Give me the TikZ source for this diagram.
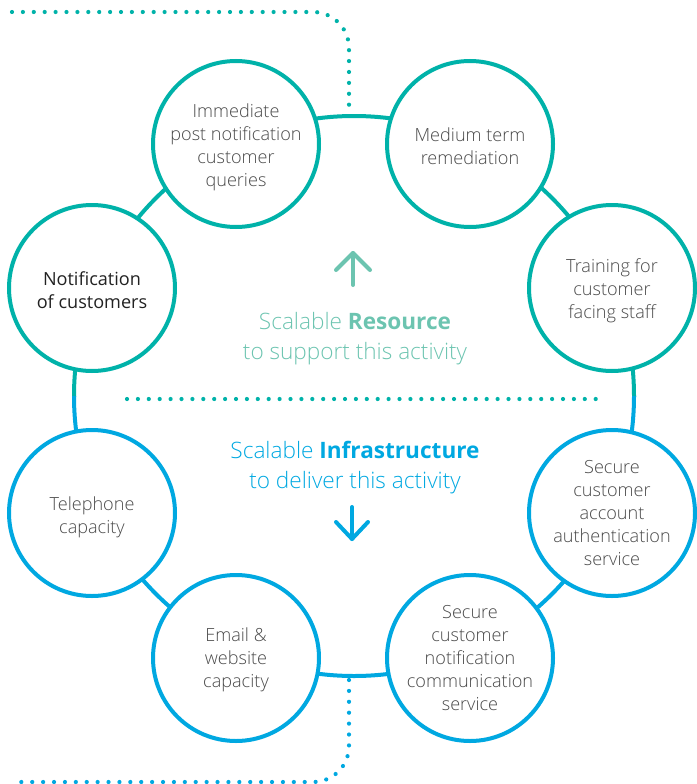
\documentclass[tikz,border=0pt]{standalone}
\usepackage{fontspec}
\setmainfont{Open Sans}
\newfontfamily\lightface{Open Sans Light}
\definecolor{ringteal}{HTML}{00B2A9}
\definecolor{ringblue}{HTML}{00A8E1}
\definecolor{softteal}{HTML}{6CC4B0}
\definecolor{labelgray}{HTML}{4A4A4A}
\definecolor{darkgray}{HTML}{222222}
\tikzset{
  x=1pt, y=-1pt,
  stage/.style={circle, minimum size=166pt, line width=4pt, fill=white,
    inner sep=0pt},
  resstage/.style={stage, draw=ringteal},
  infstage/.style={stage, draw=ringblue},
  stagetext/.style={align=center, text=labelgray, inner sep=0pt,
    font=\lightface\fontsize{18.1}{23}\selectfont},
  ringline/.style={line width=4pt},
  dotline/.style={line width=4.2pt, line cap=round, dash pattern=on 0pt off 10.9pt},
  bigarrow/.style={line width=4pt, line cap=round, line join=round},
  midtext/.style={align=center, font=\lightface\fontsize{22.6}{30}\selectfont}
}
\begin{document}
\begin{tikzpicture}
\useasboundingbox (0,0) rectangle (696,784);

% ring behind the stages: resource half above, infrastructure half below
\coordinate (hub) at (354,396);
\begin{scope}
  \clip (0,0) rectangle (696,396);
  \draw[ringline, ringteal] (hub) circle[radius=280];
\end{scope}
\begin{scope}
  \clip (0,396) rectangle (696,784);
  \draw[ringline, ringblue] (hub) circle[radius=280];
\end{scope}

% dotted leads entering and leaving the ring
\coordinate (topin) at (349,114);
\coordinate (topstart) at (12,12);
\coordinate (botout) at (349,680);
\coordinate (botend) at (12,782);
\draw[dotline, ringteal, rounded corners=36pt] (topstart) -- (349,12) -- (topin);
\draw[dotline, ringblue, rounded corners=36pt] (botout) -- (349,782) -- (botend);

% divider between resource and infrastructure
\coordinate (divl) at (127,399);
\coordinate (divr) at (596,399);
\draw[dotline, ringteal] (divl) -- (divr);

% resource stages
\node[resstage, label={[stagetext, yshift=-3pt]center:Immediate\\post notification\\customer\\queries}] (imm) at (236,144) {};
\node[resstage, label={[stagetext, yshift=-2pt]center:Medium term\\remediation}] (med) at (470,144) {};
\node[resstage, label={[stagetext, yshift=-3pt]center:Training for\\customer\\facing staff}] (train) at (612,288) {};
\node[resstage, label={[stagetext, font=\normalfont\fontsize{18.1}{23}\selectfont, text=darkgray, yshift=-2pt]center:Notification\\of customers}] (notif) at (92,288) {};

% infrastructure stages
\node[infstage, label={[stagetext, yshift=-4pt]center:Telephone\\capacity}] (tel) at (92,513) {};
\node[infstage, label={[stagetext, yshift=-2pt]center:Email \&\\website\\capacity}] (email) at (236,658) {};
\node[infstage, label={[stagetext]center:Secure\\customer\\notification\\communication\\service}] (comm) at (470,658) {};
\node[infstage, label={[stagetext]center:Secure\\customer\\account\\authentication\\service}] (auth) at (612,513) {};

% centre captions
\node[midtext, text=softteal] (res) at (355,339) {Scalable {\normalfont\bfseries Resource}\\to support this activity};
\node[midtext, text=ringblue] (inf) at (355,468) {Scalable {\normalfont\bfseries Infrastructure}\\to deliver this activity};

% arrows
\coordinate (upbase) at (353,285);
\coordinate (uptip) at (353,253);
\draw[bigarrow, softteal] (upbase) -- (uptip);
\draw[bigarrow, softteal] (336,270) -- (uptip) -- (370,270);
\coordinate (dnbase) at (352,507);
\coordinate (dntip) at (352,539);
\draw[bigarrow, ringblue] (dnbase) -- (dntip);
\draw[bigarrow, ringblue] (336,522) -- (dntip) -- (368,522);
\end{tikzpicture}
\end{document}
